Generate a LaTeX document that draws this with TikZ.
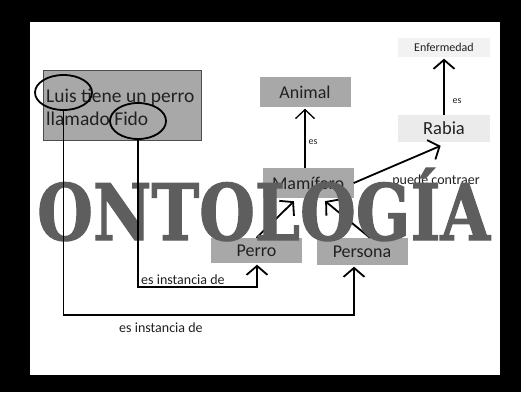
\documentclass[tikz,border=0pt]{standalone}
\usepackage{fontspec}
\usepackage{graphicx}
\setmainfont{Carlito}
\newfontfamily\slabfont{DejaVu Serif}[BoldFeatures={FakeBold=1.6}]
\usetikzlibrary{arrows.meta,shapes.geometric,calc}
\definecolor{boxgray}{gray}{0.66}
\definecolor{lightboxa}{gray}{0.95}
\definecolor{lightboxb}{gray}{0.92}
\definecolor{ontogray}{gray}{0.37}
\definecolor{txtgray}{gray}{0.13}
\begin{document}
\begin{tikzpicture}[x=1pt,y=-1pt,
  concept/.style={rectangle, fill=boxgray, text=txtgray, inner sep=0pt,
    font=\fontsize{18}{20}\selectfont, minimum width=91pt, minimum height=30pt},
  lightconcept/.style={rectangle, fill=lightboxa, text=txtgray, inner sep=0pt,
    minimum width=92pt},
  arr/.style={line width=1.8pt, shorten >=1.5pt, -{Straight Barb[length=9pt,width=21pt]}},
  thinarr/.style={line width=1.3pt, shorten >=1.5pt, -{Straight Barb[length=9pt,width=19pt]}},
  lbl/.style={inner sep=0pt, text=txtgray, font=\fontsize{14}{16}\selectfont},
  smalllbl/.style={inner sep=0pt, text=txtgray, font=\fontsize{10}{12}\selectfont},
  circ/.style={ellipse, draw=black, line width=1.8pt, inner sep=0pt},
  phrase/.style={anchor=base west, inner sep=0pt, text=txtgray, font=\fontsize{19.5}{22}\selectfont}
]
% frame
\fill[black] (0,0) rectangle (521,392);
\fill[white] (30,22) rectangle (500,375);

% phrase box
\node[rectangle, draw=black!70, line width=0.8pt, fill=boxgray, minimum width=158pt, minimum height=70pt, inner sep=0pt] (frase) at (122,105) {};
\node[phrase] (frase1) at (46,102) {Luis tiene un perro};
\node[phrase] (frase2) at (46,125) {llamado Fido};

% concepts
\node[concept] (animal) at (305,92) {Animal};
\node[concept] (mamifero) at (308,183) {Mamífero};
\node[concept, minimum height=25pt] (perro) at (256.5,250.5) {Perro};
\node[concept, minimum height=27pt] (persona) at (362,251.5) {Persona};
\node[lightconcept, minimum height=19pt, font=\fontsize{12}{14}\selectfont] (enfermedad) at (444,47.5) {Enfermedad};
\node[lightconcept, fill=lightboxb, minimum height=27pt, font=\fontsize{18.5}{20}\selectfont] (rabia) at (444,128.5) {Rabia};

% labels
\node[smalllbl] (es1) at (313,142) {es};
\node[smalllbl] (es2) at (457,101) {es};
\node[lbl] (puede) at (436,181) {puede contraer};
\node[lbl, anchor=west] (inst1) at (141,279.5) {es instancia de};
\node[lbl, anchor=west] (inst2) at (119,328) {es instancia de};

% arrows to Mamifero
\draw[arr] (perro.north) -- ($(mamifero.south)+(-13,2)$);
\draw[arr] ($(persona.north)+(8,0)$) -- ($(mamifero.south)+(16,2)$);

% big word
\node[anchor=base west, inner sep=0pt, text=ontogray] (onto) at (37,240)
  {\resizebox{453pt}{72pt}{\slabfont\bfseries ONTOLOGÍA}};

% other arrows
\draw[thinarr] (animal.south |- mamifero.north) -- (animal.south);
\draw[arr] (rabia.north) -- (enfermedad.south);
\draw[arr] (mamifero.east) -- ($(rabia.south)+(-2,3)$);

% ellipses
\node[circ, minimum width=57pt, minimum height=35pt] (luis) at (63.5,92.5) {};
\node[circ, minimum width=56pt, minimum height=36pt] (fido) at (138,121) {};

% instance connectors
\coordinate (k1) at (257,287);
\coordinate (k2) at (354,315);
\draw[arr] (fido.south) |- (k1) -- (k1 |- perro.south);
\draw[arr] (luis.south) |- (k2) -- (k2 |- persona.south);
\end{tikzpicture}
\end{document}
